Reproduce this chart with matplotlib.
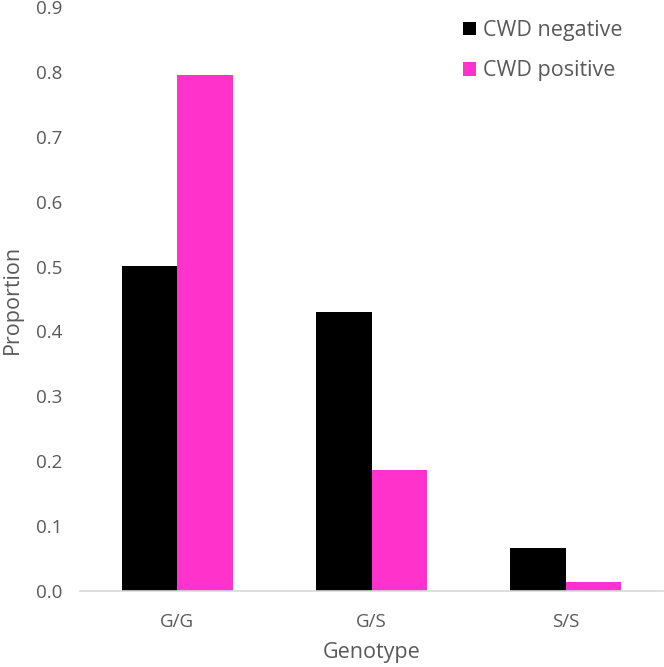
import matplotlib
matplotlib.use("Agg")
import matplotlib.pyplot as plt
import numpy as np

genotypes = ["G/G", "G/S", "S/S"]
cwd_negative = [0.501, 0.430, 0.066]
cwd_positive = [0.795, 0.187, 0.014]

plt.rcParams['font.family'] = ['Open Sans', 'DejaVu Sans']

fig = plt.figure(figsize=(6.64, 6.67), dpi=100)
ax = fig.add_axes([0.1205, 0.114, 0.878, 0.8755])

x = np.arange(len(genotypes))
w = 0.285
ax.bar(x - w / 2, cwd_negative, w, color="black", label="CWD negative")
ax.bar(x + w / 2, cwd_positive, w, color="#FF33CC", label="CWD positive")

ax.set_xlim(-0.5, 2.5)
ax.set_ylim(0, 0.9)
ax.set_yticks(np.arange(0, 0.91, 0.1))
ax.set_yticklabels(["%.1f" % v for v in np.arange(0, 0.91, 0.1)])
ax.set_xticks(x)
ax.set_xticklabels(genotypes)

for s in ["top", "right", "left"]:
    ax.spines[s].set_visible(False)
ax.spines["bottom"].set_color("#D9D9D9")
ax.spines["bottom"].set_linewidth(1.2)
ax.tick_params(axis="both", length=0, labelsize=13.5, colors="#595959")
ax.tick_params(axis="y", pad=13)
ax.tick_params(axis="x", pad=16)

ax.set_xlabel("Genotype", fontsize=15.5, color="#595959", labelpad=8)
ax.set_ylabel("Proportion", fontsize=15.5, color="#595959", labelpad=9)

leg = ax.legend(loc="upper right", bbox_to_anchor=(0.964, 1.011), frameon=False,
                fontsize=15.5, handlelength=0.6, handleheight=0.6,
                handletextpad=0.35, labelspacing=0.9)
for t in leg.get_texts():
    t.set_color("#595959")

fig.savefig("out.png", dpi=100)
